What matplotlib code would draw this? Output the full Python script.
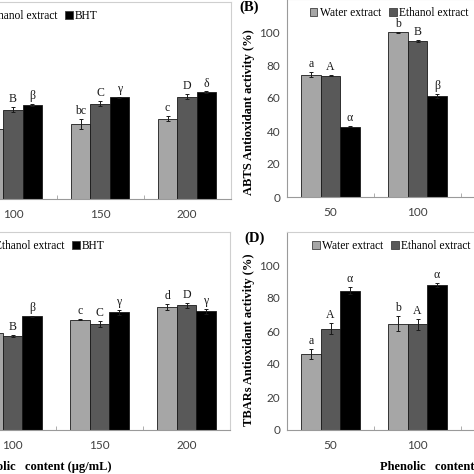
import matplotlib
matplotlib.use("Agg")
import matplotlib.pyplot as plt
from matplotlib.patches import Patch
import numpy as np

# concentrations shown on the x axis
doses = ["50", "100", "150", "200"]
series = ["Water extract", "Ethanol extract", "BHT"]
colors = ["#a6a6a6", "#595959", "#000000"]

# panel A (only partly visible in the crop)
a_vals = [[30.0, 42.4, 45.9, 48.9],
          [44.0, 54.5, 58.0, 62.4],
          [50.0, 57.4, 62.0, 65.0]]
a_err = [[2.0, 2.0, 3.0, 1.5],
         [1.5, 1.5, 1.5, 1.5],
         [0.5, 0.5, 0.4, 0.5]]
a_lbl = [["a", "b", "bc", "c"], ["A", "B", "C", "D"], ["α", "β", "γ", "δ"]]

# panel B - ABTS
b_vals = [[74.0, 99.8, 100.0, 100.0],
          [73.5, 94.5, 97.0, 98.0],
          [42.5, 61.3, 75.0, 85.0]]
b_err = [[1.5, 0.3, 0.3, 0.3],
         [0.3, 0.8, 0.5, 0.5],
         [0.3, 1.2, 1.0, 1.0]]
b_lbl = [["a", "b", "b", "b"], ["A", "B", "C", "C"], ["α", "β", "γ", "δ"]]

# panel C
c_vals = [[48.0, 59.0, 66.9, 74.5],
          [50.0, 57.0, 64.4, 75.5],
          [60.0, 68.9, 71.5, 71.9]]
c_err = [[1.5, 1.0, 0.3, 2.0],
         [1.0, 0.7, 1.8, 1.5],
         [0.5, 0.3, 1.5, 1.5]]
c_lbl = [["a", "b", "c", "d"], ["A", "B", "C", "D"], ["α", "β", "γ", "γ"]]

# panel D - TBARs
d_vals = [[46.0, 64.5, 70.0, 75.0],
          [61.5, 64.0, 72.0, 78.0],
          [84.5, 88.0, 90.0, 92.0]]
d_err = [[3.0, 4.5, 3.0, 3.0],
         [3.5, 3.5, 3.0, 3.0],
         [2.0, 1.2, 1.5, 1.5]]
d_lbl = [["a", "b", "c", "c"], ["A", "A", "B", "B"], ["α", "α", "α", "α"]]

W = 474.0
fig = plt.figure(figsize=(4.74, 4.74), dpi=100)
fig.patch.set_facecolor("white")

SERIF = "Liberation Serif"
SANS = "Lato"


def px_axes(left, right, top, bottom):
    return fig.add_axes([left / W, (W - bottom) / W, (right - left) / W, (bottom - top) / W])


def draw_panel(ax, vals, errs, lbls, leg_loc, leg_x, show_y=True):
    x = np.arange(len(doses))
    bw = 0.224
    for i in range(3):
        pos = x + (i - 1) * bw
        ax.bar(pos, vals[i], width=bw, color=colors[i], edgecolor="#1a1a1a", linewidth=0.6, zorder=2)
        ax.errorbar(pos, vals[i], yerr=errs[i], fmt="none", ecolor="#1a1a1a", elinewidth=0.7,
                    capsize=1.6, capthick=0.7, zorder=3)
        for p, v, e, t in zip(pos, vals[i], errs[i], lbls[i]):
            ax.text(p, v + e + 1.2, t, ha="center", va="bottom", fontsize=8.5,
                    family=SERIF, color="#1a1a1a")
    ax.set_xlim(-0.5, 3.5)
    ax.set_ylim(0, 120)
    ax.set_xticks(x)
    ax.set_xticklabels(doses, fontsize=8.5, family=SANS, color="#404040")
    ax.set_xticks([0.5, 1.5, 2.5], minor=True)
    ax.tick_params(axis="x", which="major", length=0, pad=7)
    ax.tick_params(axis="x", which="minor", length=3, direction="in", color="#a0a0a0")
    ax.set_yticks([0, 20, 40, 60, 80, 100])
    if show_y:
        ax.set_yticklabels(["0", "20", "40", "60", "80", "100"], fontsize=8.5, family=SANS,
                           color="#404040")
    else:
        ax.set_yticklabels([])
    ax.tick_params(axis="y", length=0, pad=5)
    for s in ["left", "bottom"]:
        ax.spines[s].set_color("#9a9a9a")
        ax.spines[s].set_linewidth(0.8)
    for s in ["top", "right"]:
        ax.spines[s].set_color("#cfcfcf")
        ax.spines[s].set_linewidth(0.8)
    handles = [Patch(facecolor=c, edgecolor="#404040", linewidth=0.6) for c in colors]
    ax.legend(handles, series, loc=leg_loc, bbox_to_anchor=(leg_x, 0.93), ncol=3, frameon=False,
              prop={"family": SERIF, "size": 8.3}, handlelength=0.65, handleheight=0.65,
              handletextpad=0.2, columnspacing=0.7, borderpad=0, borderaxespad=0)


axA = px_axes(-117.5, 230.5, 2, 199)
draw_panel(axA, a_vals, a_err, a_lbl, "center right", 0.619, show_y=False)
axB = px_axes(287, 635, -1, 197)
draw_panel(axB, b_vals, b_err, b_lbl, "center left", 0.066)
axC = px_axes(-118, 230, 232, 430)
draw_panel(axC, c_vals, c_err, c_lbl, "center right", 0.641, show_y=False)
axD = px_axes(287, 635, 232, 430)
draw_panel(axD, d_vals, d_err, d_lbl, "center left", 0.072)


def fig_text(x, y, s, **kw):
    fig.text(x / W, (W - y) / W, s, **kw)


fig_text(249, 7, "(B)", fontsize=10.5, fontweight="bold", family=SERIF, ha="center", va="center")
fig_text(255, 238, "(D)", fontsize=10.5, fontweight="bold", family=SERIF, ha="center", va="center")
fig_text(249, 112, "ABTS Antioxidant activity (%)", rotation=90, fontsize=9, fontweight="bold",
         family=SERIF, ha="center", va="center")
fig_text(249, 340, "TBARs Antioxidant activity (%)", rotation=90, fontsize=9, fontweight="bold",
         family=SERIF, ha="center", va="center")
fig_text(-30, 467, "Phenolic   content (μg/mL)", fontsize=9, fontweight="bold", family=SERIF,
         ha="left", va="center")
fig_text(380, 467, "Phenolic   content (μg/mL)", fontsize=9, fontweight="bold", family=SERIF,
         ha="left", va="center")

fig.savefig("out.png", dpi=100)
